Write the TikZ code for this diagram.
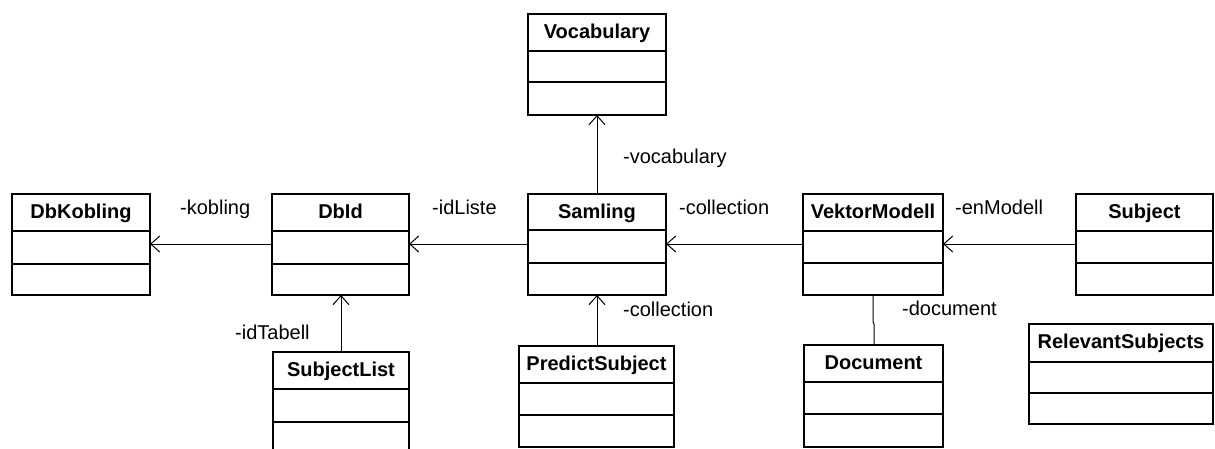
\documentclass[tikz,border=0pt]{standalone}
\usepackage{fontspec}
\setmainfont{Liberation Sans}
\usetikzlibrary{arrows.meta,fit}
\tikzset{
  classbox/.style={draw=black, line width=2pt, inner sep=0pt, outer sep=0pt},
  divider/.style={draw=black, line width=2pt},
  classtitle/.style={font=\fontsize{20}{24}\selectfont\bfseries, anchor=base, inner sep=0pt},
  rolelabel/.style={font=\fontsize{20}{24}\selectfont, anchor=base west, inner sep=0pt},
  assoc/.style={draw=black, line width=1pt},
  nav/.style={assoc, -{Straight Barb[length=9pt,width=16pt,line width=1pt]}}
}
% name, left, top, right, divider1, divider2, bottom, title
\newcommand{\umlclass}[8]{%
  \node[classbox, fit={(#2,#3) (#4,#7)}] (#1) {};
  \draw[divider] (#2,#5) -- (#4,#5);
  \draw[divider] (#2,#6) -- (#4,#6);
  \node[classtitle] (#1-title) at ({(#2+#4)/2},{#3+24.5}) {#8};
}
\begin{document}
\begin{tikzpicture}[x=1pt,y=-1pt]
\useasboundingbox (0,0) rectangle (1215,448);
\clip (0,0) rectangle (1215,448);
\umlclass{dbkobling}{12}{194}{150}{231}{264}{295}{DbKobling}
\umlclass{dbid}{272}{194}{409}{231}{264}{295}{DbId}
\umlclass{vocabulary}{528}{14}{666}{51}{82}{115}{Vocabulary}
\umlclass{samling}{528}{194}{666}{230}{263}{295}{Samling}
\umlclass{vektor}{803}{194}{943}{231}{263}{295}{VektorModell}
\umlclass{subject}{1076}{194}{1213}{231}{263}{295}{Subject}
\umlclass{subjectlist}{273}{352}{409}{389}{422}{453}{SubjectList}
\umlclass{predict}{519}{346}{674}{383}{415}{447}{PredictSubject}
\umlclass{document}{804}{345}{943}{382}{414}{447}{Document}
\umlclass{relevant}{1029}{324}{1213}{362}{393}{424}{RelevantSubjects}

% connectors
\draw[nav] (dbid.west |- 0,244) -- (dbkobling.east |- 0,244);
\draw[nav] (samling.west |- 0,244) -- (dbid.east |- 0,244);
\draw[nav] (vektor.west |- 0,244) -- (samling.east |- 0,244);
\draw[nav] (subject.west |- 0,244) -- (vektor.east |- 0,244);
\draw[nav] (samling.north -| 597,0) -- (vocabulary.south -| 597,0);
\draw[nav] (predict.north -| 597,0) -- (samling.south -| 597,0);
\draw[nav] (subjectlist.north -| 341,0) -- (dbid.south -| 341,0);
\coordinate (bend1) at (873,322);
\coordinate (bend2) at (874,324);
\draw[assoc] (vektor.south -| 873,0) -- (bend1) -- (bend2) -- (document.north -| 874,0);

% role labels
\node[rolelabel] (l-kobling) at (180,214.5) {-kobling};
\node[rolelabel] (l-idliste) at (432,214.5) {-idListe};
\node[rolelabel] (l-coll1) at (679,214.5) {-collection};
\node[rolelabel] (l-enmodell) at (955,214.5) {-enModell};
\node[rolelabel] (l-vocab) at (623,163) {-vocabulary};
\node[rolelabel] (l-coll2) at (623,316) {-collection};
\node[rolelabel] (l-document) at (902,315) {-document};
\node[rolelabel] (l-idtabell) at (235,339) {-idTabell};
\end{tikzpicture}
\end{document}
